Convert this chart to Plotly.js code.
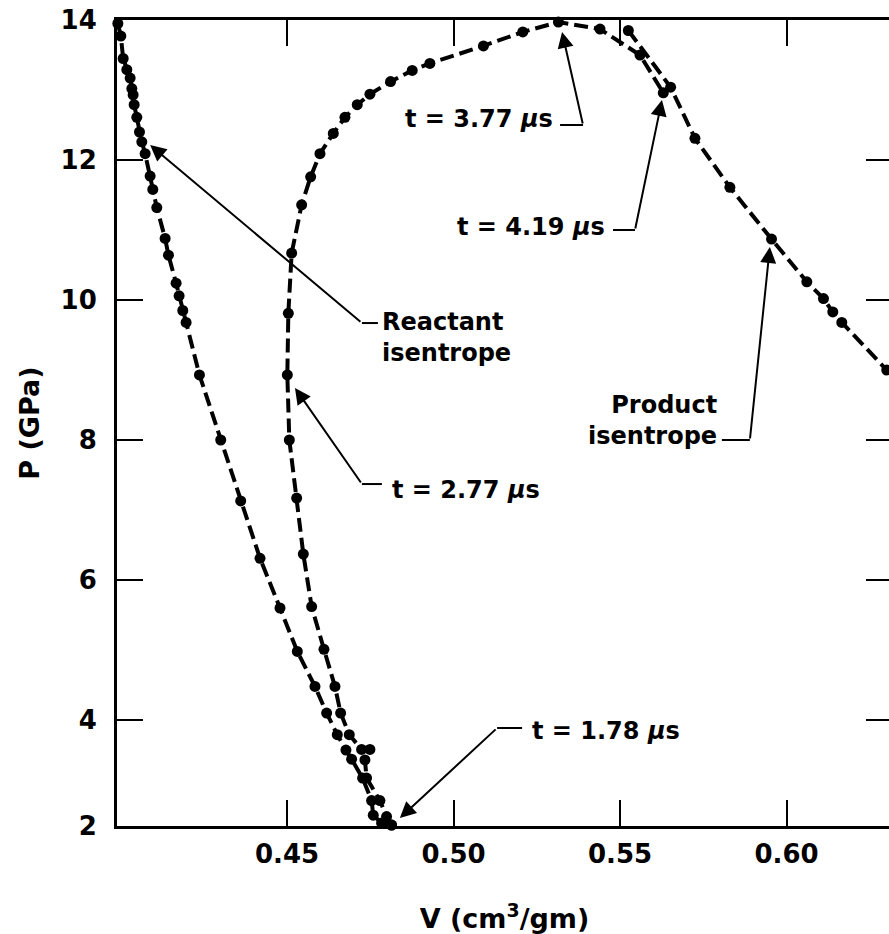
<!DOCTYPE html>
<html>
<head>
<meta charset="utf-8">
<script src="https://cdn.plot.ly/plotly-3.0.1.min.js"></script>
<style>
  html, body { margin: 0; padding: 0; background: #fff; overflow: hidden; }
  #chart { width: 892px; height: 934px; }
</style>
</head>
<body>
<div id="chart"></div>
<script>
// ---- Data (V in cm^3/gm, P in GPa) ----
const reactantV = [0.3992, 0.4001, 0.4008, 0.4019, 0.4029, 0.4034, 0.4038, 0.4041, 0.4049, 0.4057,
  0.4064, 0.4074, 0.4089, 0.4097, 0.4109, 0.4134, 0.4144, 0.4167, 0.4176, 0.4187, 0.4197, 0.4237,
  0.4301, 0.4361, 0.4419, 0.4479, 0.4531, 0.4584, 0.4619, 0.4651, 0.4677, 0.4694, 0.4727, 0.4754,
  0.4759, 0.4784, 0.4814];
const reactantP = [13.95, 13.77, 13.45, 13.29, 13.17, 13.02, 12.93, 12.79, 12.61, 12.40,
  12.26, 12.09, 11.77, 11.58, 11.32, 10.88, 10.64, 10.24, 10.06, 9.85, 9.68, 8.93,
  8.00, 7.13, 6.31, 5.60, 4.98, 4.48, 4.10, 3.79, 3.57, 3.44, 3.17, 2.85,
  2.64, 2.53, 2.50];

// state path from t = 1.78 us up through t = 2.77 us to the peak (3.77 us) and down to 4.19 us
const pathV = [0.4814, 0.4799, 0.4779, 0.4739, 0.4734, 0.4749, 0.4724, 0.4687, 0.4661, 0.4644,
  0.4611, 0.4574, 0.4549, 0.4529, 0.4507, 0.4501, 0.4504, 0.4514, 0.4544, 0.4571, 0.4599,
  0.4639, 0.4674, 0.4711, 0.4749, 0.4811, 0.4876, 0.4929, 0.5090, 0.5208, 0.5315,
  0.5440, 0.5560, 0.5630];
const pathP = [2.50, 2.62, 2.85, 3.17, 3.43, 3.58, 3.58, 3.79, 4.10, 4.48,
  5.01, 5.62, 6.37, 7.17, 8.00, 8.93, 9.81, 10.67, 11.36, 11.76, 12.09,
  12.38, 12.61, 12.79, 12.94, 13.12, 13.28, 13.38, 13.63, 13.83, 13.97,
  13.87, 13.50, 12.96];

const productV = [0.5525, 0.5652, 0.5725, 0.5830, 0.5955, 0.6061, 0.6111, 0.6139, 0.6166, 0.6301];
const productP = [13.85, 13.04, 12.31, 11.61, 10.87, 10.26, 10.02, 9.83, 9.68, 9.00];

const xTickVals = [0.45, 0.50, 0.55, 0.60];
const xTickText = ['0.45', '0.50', '0.55', '0.60'];
const yBottom = 2.486;            // the bottom axis (labelled "2" in the reference)
const yTickVals = [yBottom, 4, 6, 8, 10, 12, 14];
const yTickText = ['2', '4', '6', '8', '10', '12', '14'];

// ---- styling ----
const FONT = 'DejaVu Sans, Arial, sans-serif';
const lineStyle = { color: '#000', width: 4, dash: '14px,6px' };
const markerStyle = { color: '#000', size: 11 };

function curve(v, p) {
  return { x: v, y: p, type: 'scatter', mode: 'lines+markers', line: lineStyle,
           marker: markerStyle, cliponaxis: false, showlegend: false, hoverinfo: 'skip' };
}
const traces = [curve(reactantV, reactantP), curve(pathV, pathP), curve(productV, productP)];

const txtFont = { family: FONT, size: 24, color: '#000', weight: 'bold' };
function label(text, x, y, xanchor, align) {
  return { text: text, x: x, y: y, xref: 'x', yref: 'y', xanchor: xanchor, yanchor: 'middle',
           align: align || 'left', showarrow: false, font: txtFont };
}
function arrow(tailX, tailY, tipX, tipY) {
  return { text: '', x: tipX, y: tipY, ax: tailX, ay: tailY, xref: 'x', yref: 'y',
           axref: 'x', ayref: 'y', showarrow: true, arrowhead: 2, arrowsize: 1.6,
           arrowwidth: 2, arrowcolor: '#000', standoff: 0, startstandoff: 0 };
}
function seg(x0, x1, y) {
  return { type: 'line', xref: 'x', yref: 'y', x0: x0, x1: x1, y0: y, y1: y,
           line: { color: '#000', width: 2 } };
}

const annotations = [
  label('t = 3.77 <i>μ</i>s', 0.5305, 12.586, 'right'),
  label('t = 4.19 <i>μ</i>s', 0.5461, 11.043, 'right'),
  label('Reactant<br>isentrope', 0.4779, 9.47, 'left', 'left'),
  label('Product<br>isentrope', 0.5796, 8.28, 'right', 'right'),
  label('t = 2.77 <i>μ</i>s', 0.4809, 7.286, 'left'),
  label('t = 1.78 <i>μ</i>s', 0.5230, 3.843, 'left'),
  arrow(0.4725, 9.671, 0.4089, 12.214),
  arrow(0.4725, 7.371, 0.4524, 8.743),
  arrow(0.5131, 3.886, 0.4839, 2.60),
  arrow(0.5389, 12.50, 0.5326, 13.83),
  arrow(0.5545, 11.00, 0.5626, 12.857),
  arrow(0.5890, 8.00, 0.5950, 10.757)
];
const shapes = [
  seg(0.4725, 0.4773, 9.671),
  seg(0.4725, 0.4785, 7.371),
  seg(0.5131, 0.5206, 3.886),
  seg(0.5320, 0.5389, 12.50),
  seg(0.5479, 0.5545, 11.00),
  seg(0.5806, 0.5890, 8.00)
];

const axisCommon = {
  showgrid: false, zeroline: false, showline: true, linecolor: '#000', linewidth: 3,
  ticks: 'inside', ticklen: 26, tickwidth: 2, tickcolor: '#000', mirror: 'ticks',
  tickfont: { family: FONT, size: 26, color: '#000', weight: 'bold' }
};

const layout = {
  width: 892, height: 934,
  margin: { l: 117, r: 0, t: 20, b: 108 },
  paper_bgcolor: '#fff', plot_bgcolor: '#fff',
  showlegend: false,
  xaxis: Object.assign({}, axisCommon, {
    range: [0.39895, 0.63168], tickmode: 'array', tickvals: xTickVals, ticktext: xTickText,
    ticklabelstandoff: 3,
    title: { text: 'V (cm<sup>3</sup>/gm)', font: { family: FONT, size: 27, color: '#000', weight: 'bold' }, standoff: 42 }
  }),
  yaxis: Object.assign({}, axisCommon, {
    range: [yBottom, 14], tickmode: 'array', tickvals: yTickVals, ticktext: yTickText,
    ticklabelstandoff: 12,
    title: { text: 'P (GPa)', font: { family: FONT, size: 27, color: '#000', weight: 'bold' }, standoff: 14 }
  }),
  annotations: annotations,
  shapes: shapes
};

Plotly.newPlot('chart', traces, layout, { staticPlot: true, displayModeBar: false });
</script>
</body>
</html>
